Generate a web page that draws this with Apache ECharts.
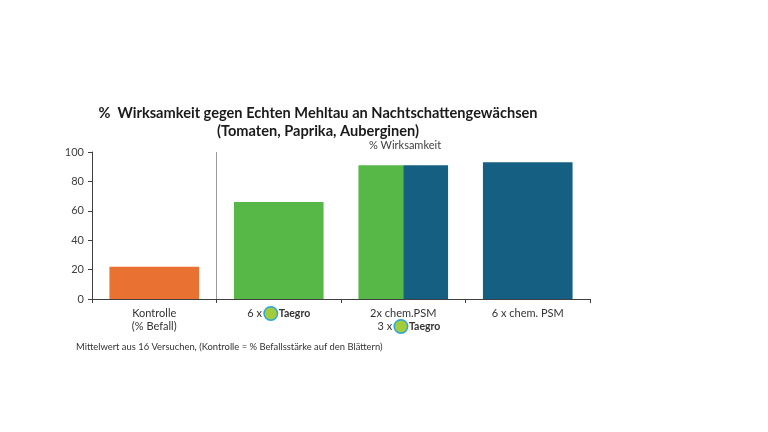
<!DOCTYPE html>
<html>
<head>
<meta charset="utf-8">
<script src="https://cdn.jsdelivr.net/npm/echarts@6/dist/echarts.min.js"></script>
<style>
  html, body { margin: 0; padding: 0; background: #fff; }
  #chart { width: 768px; height: 432px; }
</style>
</head>
<body>
<div id="chart"></div>
<script>
// Daten
var categories = ['kontrolle', 'taegro6', 'kombi', 'chem6'];
var singleBars = [22, 66, '-', 93];
var kombiTaegro = ['-', '-', 91, '-'];
var kombiChem = ['-', '-', 91, '-'];
// Trennlinie zwischen Kontrolle und den Behandlungen
var separatorAt = 1;

var orange = '#E97132';
var green = '#57B847';
var blue = '#156082';
var singleColors = [orange, green, green, blue];

var chart = echarts.init(document.getElementById('chart'));

var rich = {
    t: { fontSize: 11, color: '#333', fontFamily: 'Lato', lineHeight: 13 },
    logo: {
        width: 12, height: 12,
        backgroundColor: '#A3CC3A',
        borderColor: '#2AA5DD',
        borderWidth: 1.5,
        borderRadius: 6
    },
    tg: { fontSize: 10.5, fontWeight: 'bold', color: '#333', fontFamily: 'Lato', lineHeight: 13, padding: [0, 0, 0, 2] }
};
var labelText = {
    kontrolle: '{t|Kontrolle}\n{t|(% Befall)}',
    taegro6: '{t|6 x }{logo|}{tg|Taegro}',
    kombi: '{t|2x chem.PSM}\n{t|    3 x }{logo|}{tg|Taegro}',
    chem6: '{t|6 x chem. PSM}'
};

let option = {
    animation: false,
    title: [
        {
            text: '%  Wirksamkeit gegen Echten Mehltau an Nachtschattengewächsen\n(Tomaten, Paprika, Auberginen)',
            left: 318,
            top: 104,
            padding: 0,
            textAlign: 'center',
            textStyle: { fontSize: 14.6, fontWeight: 'bold', color: '#1a1a1a', fontFamily: 'Lato', lineHeight: 18 }
        },
        {
            text: '% Wirksamkeit',
            left: 405,
            top: 140,
            padding: 0,
            textAlign: 'center',
            textStyle: { fontSize: 11, fontWeight: 'normal', color: '#404040', fontFamily: 'Lato' }
        },
        {
            text: 'Mittelwert aus 16 Versuchen, (Kontrolle = % Befallsstärke auf den Blättern)',
            left: 76,
            top: 342,
            padding: 0,
            textStyle: { fontSize: 9.4, fontWeight: 'normal', color: '#333', fontFamily: 'Lato' }
        }
    ],
    grid: { left: 92, right: 178, top: 152, bottom: 133 },
    xAxis: [
        {
            type: 'category',
            data: categories,
            axisLine: { lineStyle: { color: '#404040', width: 1 } },
            axisTick: { show: true, interval: 0, length: 4, lineStyle: { color: '#404040' } },
            axisLabel: {
                interval: 0,
                margin: 8,
                formatter: function (v) { return labelText[v]; },
                rich: rich
            },
            splitLine: { show: false }
        },
        {
            type: 'category',
            data: categories,
            show: false
        },
        {
            type: 'value',
            min: 0,
            max: categories.length,
            show: false
        }
    ],
    yAxis: {
        type: 'value',
        min: 0,
        max: 100,
        interval: 20,
        axisLine: { show: true, lineStyle: { color: '#404040' } },
        axisTick: { show: true, length: 4, inside: false, lineStyle: { color: '#404040' } },
        axisLabel: { fontSize: 11, color: '#404040', fontFamily: 'Lato', margin: 8 },
        splitLine: { show: false }
    },
    series: [
        {
            name: 'einzeln',
            type: 'bar',
            xAxisIndex: 0,
            barWidth: '72%',
            data: singleBars.map(function (v, i) {
                return { value: v, itemStyle: { color: singleColors[i] } };
            }),
            z: 1
        },
        {
            name: 'Taegro',
            type: 'bar',
            xAxisIndex: 1,
            barWidth: '36%',
            barGap: '0%',
            itemStyle: { color: green },
            data: kombiTaegro,
            z: 1
        },
        {
            name: 'chem. PSM',
            type: 'bar',
            xAxisIndex: 1,
            barWidth: '36%',
            barGap: '0%',
            itemStyle: { color: blue },
            data: kombiChem,
            z: 1
        },
        {
            name: 'trenner',
            type: 'line',
            xAxisIndex: 2,
            data: [],
            markLine: {
                silent: true,
                symbol: 'none',
                label: { show: false },
                lineStyle: { color: '#999', type: 'solid', width: 1 },
                data: [{ xAxis: separatorAt }]
            }
        }
    ]
};

chart.setOption(option);
</script>
</body>
</html>
